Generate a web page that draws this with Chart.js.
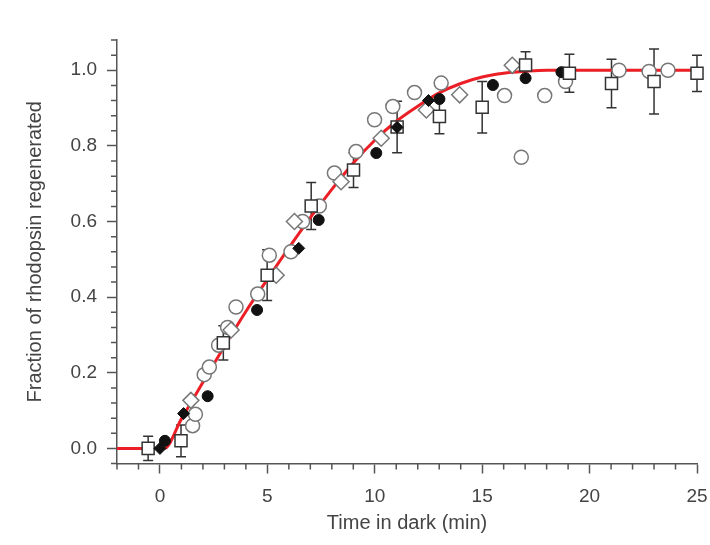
<!DOCTYPE html>
<html>
<head>
<meta charset="utf-8">
<script src="https://cdn.jsdelivr.net/npm/chart.js@4.4.1/dist/chart.umd.min.js"></script>
<style>
    body { margin: 0; background: #fff; }
    .chart-box { width: 710px; height: 545px; }
</style>
</head>
<body>
<div class="chart-box">
    <canvas id="myChart" width="710" height="545"></canvas>
</div>
<script>
// fitted curve
const curveX = [-2, 0.2, 1, 2, 3, 4, 5, 6, 7, 8, 9, 10, 11, 12, 13, 14, 15, 16, 17, 18, 25];
const curveY = [0, 0, 0.078, 0.175, 0.27, 0.362, 0.447, 0.53, 0.61, 0.685, 0.755, 0.815, 0.865, 0.905, 0.94, 0.965, 0.982, 0.992, 0.997, 1.0, 1.0];

const openCircleX = [1.52, 1.65, 2.06, 2.3, 2.73, 3.15, 3.54, 4.55, 5.09, 6.1, 6.64, 7.42, 8.12, 9.13, 9.99, 10.84, 11.85, 13.09, 16.04, 16.82, 17.91, 18.88, 21.37, 22.77, 23.65];
const openCircleY = [0.06, 0.09, 0.195, 0.215, 0.273, 0.32, 0.374, 0.408, 0.511, 0.52, 0.6, 0.641, 0.728, 0.785, 0.869, 0.904, 0.941, 0.966, 0.933, 0.77, 0.933, 0.97, 1.0, 0.997, 1.0];

const filledCircleX = [0.23, 2.22, 4.52, 7.39, 10.07, 13.01, 15.5, 17.02, 18.69];
const filledCircleY = [0.02, 0.138, 0.366, 0.604, 0.781, 0.924, 0.961, 0.979, 0.995];

const openDiamondX = [1.44, 3.31, 5.41, 6.26, 8.43, 10.3, 12.4, 13.95, 16.4];
const openDiamondY = [0.127, 0.313, 0.458, 0.6, 0.705, 0.82, 0.895, 0.935, 1.013];

const filledDiamondX = [0.0, 1.1, 6.46, 11.04, 12.5];
const filledDiamondY = [0.0, 0.092, 0.529, 0.849, 0.92];

const squareX = [-0.55, 0.98, 2.95, 4.99, 7.04, 9.01, 11.04, 13.01, 15.0, 17.02, 19.06, 21.02, 23.0, 25.0];
const squareY = [0.0, 0.02, 0.279, 0.458, 0.641, 0.736, 0.85, 0.878, 0.902, 1.014, 0.992, 0.965, 0.97, 0.992];
const squareErr = [0.032, 0.042, 0.045, 0.067, 0.062, 0.046, 0.068, 0.046, 0.068, 0.035, 0.05, 0.064, 0.086, 0.048];

const xTicks = [0, 5, 10, 15, 20, 25];
const yTicks = [0, 0.2, 0.4, 0.6, 0.8, 1.0];
const xMinor = [-2, -1, 1, 2, 3, 4, 6, 7, 8, 9, 11, 12, 13, 14, 16, 17, 18, 19, 21, 22, 23, 24];
const yMinor = [-0.04, 0.04, 0.08, 0.12, 0.16, 0.24, 0.28, 0.32, 0.36, 0.44, 0.48, 0.52, 0.56, 0.64, 0.68, 0.72, 0.76, 0.84, 0.88, 0.92, 0.96, 1.04, 1.08];

function toPoints(xs, ys){
    return xs.map((x, i) => ({x: x, y: ys[i]}))
}

const axisColor = "#555";
const textColor = "#444";

// error bars for the squares, drawn under the markers
const errorBars = {
    id: "errorBars",
    beforeDatasetsDraw(chart){
        const ctx = chart.ctx;
        const xs = chart.scales.x;
        const ys = chart.scales.y;
        ctx.save();
        ctx.strokeStyle = "#333";
        ctx.lineWidth = 1.5;
        squareX.forEach((x, i) => {
            const px = xs.getPixelForValue(x);
            const top = ys.getPixelForValue(squareY[i] + squareErr[i]);
            const bot = ys.getPixelForValue(squareY[i] - squareErr[i]);
            ctx.beginPath();
            ctx.moveTo(px, top);
            ctx.lineTo(px, bot);
            ctx.moveTo(px - 5, top);
            ctx.lineTo(px + 5, top);
            ctx.moveTo(px - 5, bot);
            ctx.lineTo(px + 5, bot);
            ctx.stroke();
        })
        ctx.restore();
    }
}

// short minor ticks outside the axes
const minorTicks = {
    id: "minorTicks",
    afterDraw(chart){
        const ctx = chart.ctx;
        const xs = chart.scales.x;
        const ys = chart.scales.y;
        const area = chart.chartArea;
        ctx.save();
        ctx.strokeStyle = axisColor;
        ctx.lineWidth = 1.5;
        ctx.beginPath();
        xMinor.forEach(v => {
            const px = xs.getPixelForValue(v);
            ctx.moveTo(px, area.bottom);
            ctx.lineTo(px, area.bottom + 6);
        })
        yMinor.forEach(v => {
            const py = ys.getPixelForValue(v);
            ctx.moveTo(area.left, py);
            ctx.lineTo(area.left - 6, py);
        })
        ctx.stroke();
        ctx.restore();
    }
}

const ctx = document.getElementById("myChart");

new Chart(ctx, {
    type: "scatter",
    data: {
        datasets: [
            {
                type: "line",
                data: toPoints(curveX, curveY),
                borderColor: "rgb(236, 30, 38)",
                borderWidth: 3,
                pointRadius: 0,
                cubicInterpolationMode: "monotone",
                fill: false,
                order: 10
            },
            {
                data: toPoints(openCircleX, openCircleY),
                pointStyle: "circle",
                pointRadius: 7,
                backgroundColor: "#fff",
                borderColor: "#777",
                borderWidth: 1.5,
                clip: false,
                order: 5
            },
            {
                data: toPoints(openDiamondX, openDiamondY),
                pointStyle: "rectRot",
                pointRadius: 8,
                backgroundColor: "#fff",
                borderColor: "#777",
                borderWidth: 1.5,
                clip: false,
                order: 4
            },
            {
                data: toPoints(filledCircleX, filledCircleY),
                pointStyle: "circle",
                pointRadius: 5.5,
                backgroundColor: "#111",
                borderColor: "#111",
                borderWidth: 1,
                clip: false,
                order: 3
            },
            {
                data: toPoints(squareX, squareY),
                pointStyle: "rect",
                pointRadius: 8.5,
                backgroundColor: "#fff",
                borderColor: "#333",
                borderWidth: 1.5,
                clip: false,
                order: 2
            },
            {
                data: toPoints(filledDiamondX, filledDiamondY),
                pointStyle: "rectRot",
                pointRadius: 6,
                backgroundColor: "#111",
                borderColor: "#111",
                borderWidth: 1,
                clip: false,
                order: 1
            }
        ]
    },
    options: {
        responsive: false,
        animation: false,
        layout: {
            padding: {top: 40, right: 13, left: 0, bottom: 0}
        },
        plugins: {
            legend: {display: false},
            tooltip: {enabled: false}
        },
        scales: {
            x: {
                type: "linear",
                min: -2,
                max: 25,
                afterBuildTicks: scale => { scale.ticks = xTicks.map(v => ({value: v})) },
                afterFit: scale => {
                    scale.height = 81.5;
                    scale.paddingLeft = 0;
                    scale.paddingRight = 0;
                },
                ticks: {
                    callback: v => String(v),
                    font: {family: "Liberation Sans", size: 19},
                    color: textColor,
                    padding: 12,
                    maxRotation: 0
                },
                grid: {
                    drawOnChartArea: false,
                    tickLength: 10,
                    tickColor: axisColor,
                    tickWidth: 1.5
                },
                border: {color: axisColor, width: 1.5},
                title: {
                    display: true,
                    text: "Time in dark (min)",
                    font: {family: "Liberation Sans", size: 20},
                    color: textColor,
                    padding: {top: 0, bottom: 10}
                }
            },
            y: {
                type: "linear",
                min: -0.04,
                max: 1.08,
                afterBuildTicks: scale => { scale.ticks = yTicks.map(v => ({value: v})) },
                afterFit: scale => {
                    scale.width = 117;
                    scale.paddingTop = 0;
                    scale.paddingBottom = 0;
                },
                ticks: {
                    callback: v => v.toFixed(1),
                    font: {family: "Liberation Sans", size: 19},
                    color: textColor,
                    padding: 10
                },
                grid: {
                    drawOnChartArea: false,
                    tickLength: 10,
                    tickColor: axisColor,
                    tickWidth: 1.5
                },
                border: {color: axisColor, width: 1.5},
                title: {
                    display: true,
                    text: "Fraction of rhodopsin regenerated",
                    font: {family: "Liberation Sans", size: 20},
                    color: textColor,
                    padding: {top: 23, bottom: 0}
                }
            }
        }
    },
    plugins: [errorBars, minorTicks]
});
</script>
</body>
</html>
